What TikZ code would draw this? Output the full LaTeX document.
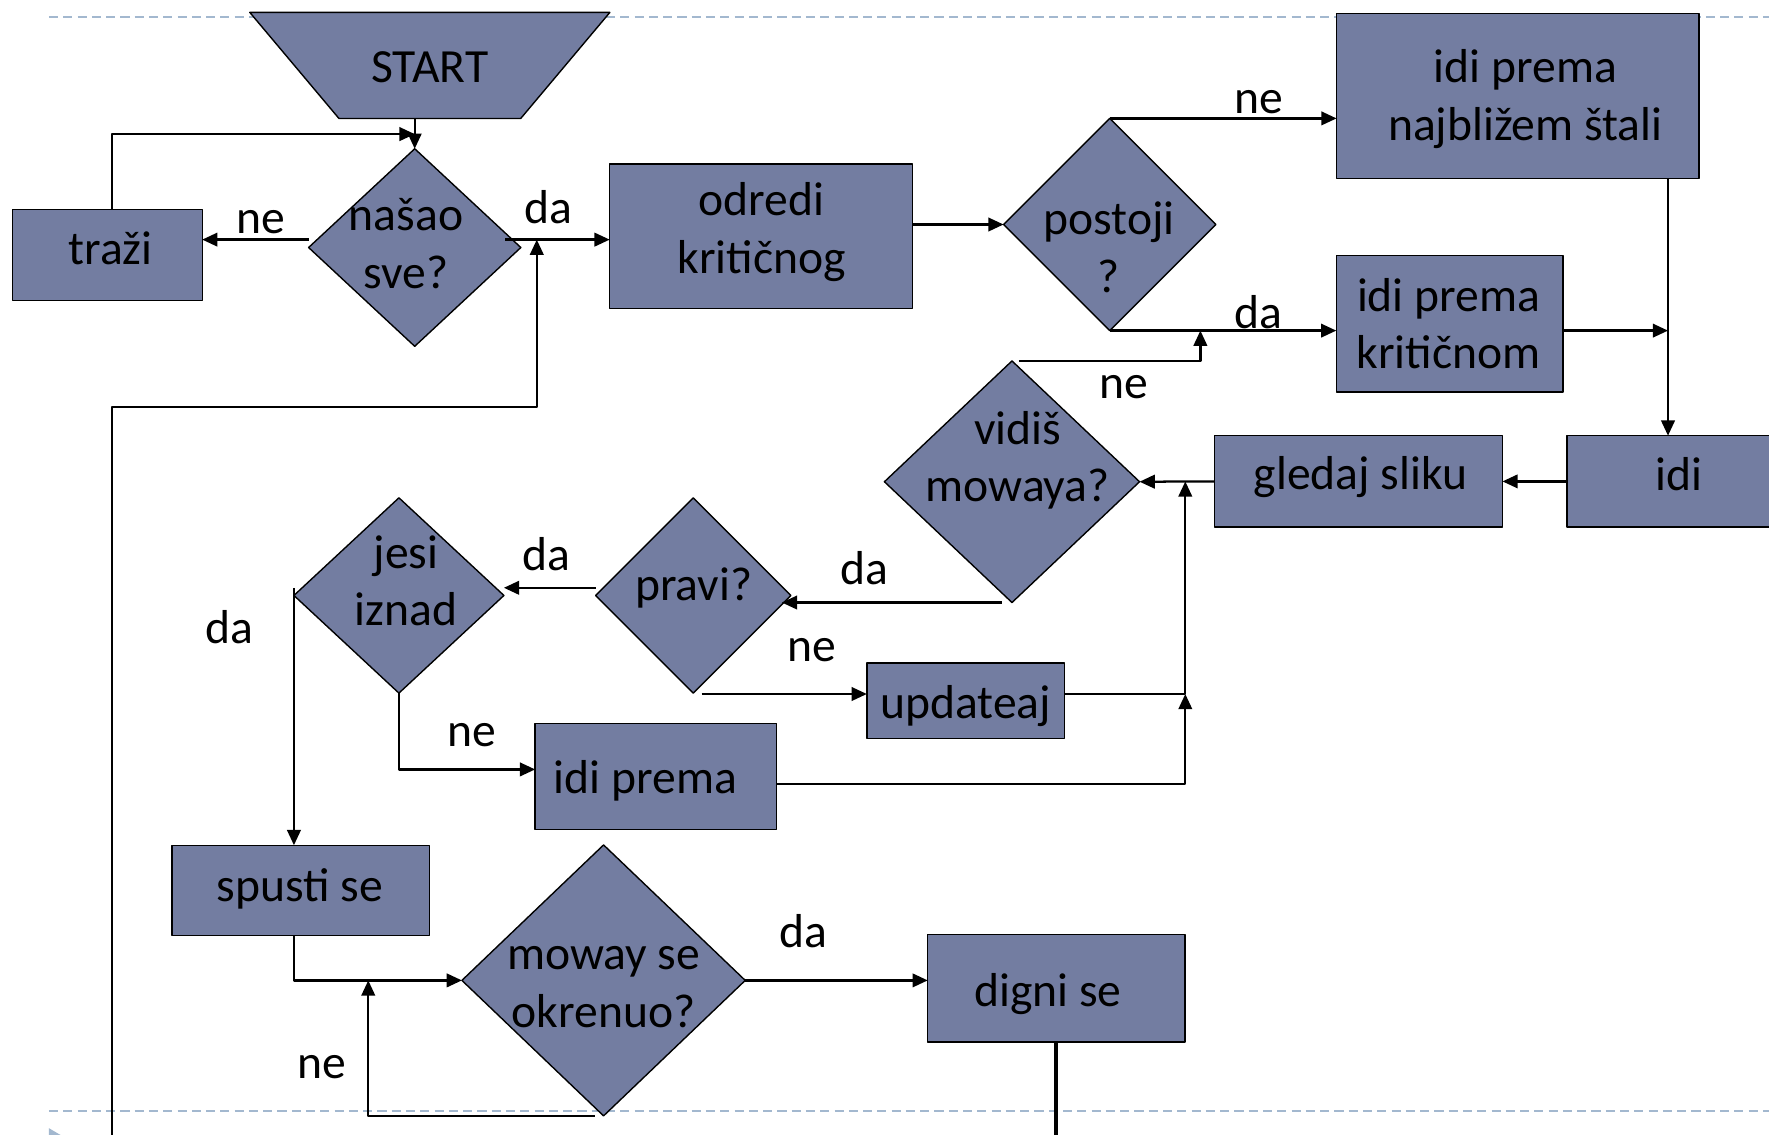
\documentclass[tikz,border=0pt]{standalone}
\usepackage{fontspec}
\setmainfont{Carlito}
\usetikzlibrary{shapes.geometric,arrows.meta,calc}
\definecolor{xsxcar}{rgb}{0.45,0.49,0.63}
\definecolor{aubzce}{rgb}{0.64,0.72,0.81}
\tikzset{
  korak/.style={draw=black,line width=0.35pt,fill=xsxcar,inner sep=0pt,outer sep=0pt},
  kutija/.style={korak,rectangle},
  odluka/.style={korak,diamond},
  tekst/.style={inner sep=0pt,align=center},
  veza/.style={line width=0.57pt,-{Triangle[length=1.35mm,width=1.2mm]}},
  oznaka/.style={inner sep=0pt}
}
\begin{document}
\begin{tikzpicture}[line join=round,x=0.01cm,y=-0.01cm,font=\fontsize{12}{14.5}\selectfont]
  \useasboundingbox (0,0) rectangle (1568,1006);
  \clip (0,0) rectangle (1568,1006);
  % slide guides
  \draw[aubzce,line width=0.5pt,dash pattern=on 2.3pt off 1.3pt] (43.4,14.8) -- (1568,14.8);
  \draw[aubzce,line width=0.5pt,dash pattern=on 2.3pt off 1.3pt] (43.4,984.5) -- (1568,984.5);
  \fill[aubzce] (43.4,1000) -- (57,1008) -- (43.4,1016) -- cycle;
  % steps
  \node[inner sep=0pt,outer sep=0pt,minimum width=3.19cm,minimum height=0.94cm] (start) at (381,58) {};
  \path[korak] (start.north west) -- (start.north east) -- ([xshift=-0.79cm]start.south east)
    -- ([xshift=0.79cm]start.south west) -- cycle;
  \node[odluka,minimum width=1.88cm,minimum height=1.75cm] (nasao) at (367.6,219.4) {};
  \node[kutija,minimum width=1.68cm,minimum height=0.81cm] (trazi) at (95.2,226) {};
  \node[kutija,minimum width=2.68cm,minimum height=1.28cm] (odredi) at (674.5,209.5) {};
  \node[odluka,minimum width=1.88cm,minimum height=1.88cm] (postoji) at (983.6,199) {};
  \node[kutija,minimum width=3.21cm,minimum height=1.46cm] (stala) at (1345.3,85.2) {};
  \node[kutija,minimum width=2.01cm,minimum height=1.21cm] (kriticni) at (1285,286.8) {};
  \node[kutija,minimum width=1.98cm,minimum height=0.81cm] (idi) at (1488,426.7) {};
  \node[kutija,minimum width=2.55cm,minimum height=0.81cm] (gledaj) at (1204.2,426.7) {};
  \node[odluka,minimum width=2.26cm,minimum height=2.14cm] (vidis) at (897,427) {};
  \node[odluka,minimum width=1.73cm,minimum height=1.73cm] (pravi) at (614.5,527.8) {};
  \node[odluka,minimum width=1.86cm,minimum height=1.73cm] (jesi) at (353.6,527.8) {};
  \node[kutija,minimum width=1.75cm,minimum height=0.67cm] (updateaj) at (855.9,621.3) {};
  \node[kutija,minimum width=2.14cm,minimum height=0.94cm] (prema) at (581.4,688.2) {};
  \node[kutija,minimum width=2.28cm,minimum height=0.80cm] (spusti) at (266.4,789.2) {};
  \node[odluka,minimum width=2.51cm,minimum height=2.40cm] (moway) at (535,869) {};
  \node[kutija,minimum width=2.28cm,minimum height=0.95cm] (digni) at (936.4,876) {};
  % texts
  \node[tekst] (startT) at (381,60) {START};
  \node[tekst] (nasaoT) at (360,216) {našao\\sve?};
  \node[tekst] (traziT) at (98,220) {traži};
  \node[tekst] (odrediT) at (675,205.5) {odredi\\kritičnog};
  \node[tekst] (postojiT) at (983,219) {postoji\\?};
  \node[tekst] (stalaT) at (1352,88) {idi prema\\najbližem štali};
  \node[tekst] (kriticniT) at (1284,287) {idi prema\\kritičnom};
  \node[tekst] (idiT) at (1488,420) {idi};
  \node[tekst] (gledajT) at (1206,423) {gledaj sliku};
  \node[tekst] (vidisT) at (902,408) {vidiš\\mowaya?};
  \node[tekst] (praviT) at (615,521) {pravi?};
  \node[tekst] (jesiT) at (360,515) {jesi\\iznad};
  \node[tekst] (updateajT) at (856,626) {updateaj};
  \node[tekst] (premaT) at (572,692) {idi prema};
  \node[tekst] (spustiT) at (266,788) {spusti se};
  \node[tekst] (mowayT) at (535,875) {moway se\\okrenuo?};
  \node[tekst] (digniT) at (929,881) {digni se};
  % helper points
  \coordinate (traziN) at ($(trazi.north)+(4,0)$);
  \coordinate (nasaoD) at ($(nasao.east)+(-14,-7)$);
  \coordinate (dnoL) at (99.2,1010);
  \coordinate (petlja) at (475.8,360.5);
  \coordinate (stalaD) at ($(stala.south east)+(-27.4,0)$);
  \coordinate (vidisN) at ($(vidis.north)+(6,0)$);
  \coordinate (spojN) at ($(postoji.south)+(80.4,0)$);
  \coordinate (vidisS) at ($(vidis.south)+(-9,0)$);
  \coordinate (praviD) at ($(pravi.east)+(-8,0)$);
  \coordinate (praviL) at ($(pravi.west)+(0,-6.8)$);
  \coordinate (praviB) at ($(pravi.south)+(7.4,0.8)$);
  \coordinate (premaL) at ($(prema.west)+(0,-6.2)$);
  \coordinate (premaD) at ($(prema.east)+(0,6.8)$);
  \coordinate (jesiL) at ($(jesi.west)+(0,-6.8)$);
  \coordinate (spojV) at ($(gledaj.west)+(-26,0)$);
  \coordinate (mowayS) at ($(moway.south)+(-8,0)$);
  \coordinate (spojM) at ($(moway.west)+(-83,0)$);
  % connectors
  \draw[veza] (start.south -| nasao.north) -- (nasao.north);
  \draw[veza] (traziN) |- ($(nasao.north)+(0,-13)$);
  \draw[veza] ([yshift=0.07cm]nasao.west) -- ([yshift=0.07cm]nasao.west -| trazi.east);
  \draw[veza] (nasaoD) -- (nasaoD -| odredi.west);
  \draw[veza] (dnoL) |- (petlja) -- (petlja |- nasaoD);
  \draw[veza] (odredi.east |- postoji.west) -- (postoji.west);
  \draw[veza] (postoji.north) -- (postoji.north -| stala.west);
  \draw[veza] (postoji.south) -- (postoji.south -| kriticni.west);
  \draw[veza] (kriticni.east |- postoji.south) -- (stalaD |- postoji.south);
  \draw[veza] (stalaD) -- (stalaD |- idi.north);
  \draw[veza] (idi.west) -- (gledaj.east);
  \draw[veza] (gledaj.west) -- (vidis.east);
  \draw[veza] (vidisN) -| (spojN);
  \draw[veza] (vidisS) -- (vidisS -| praviD);
  \draw[veza] (praviL) -- (praviL -| jesi.east);
  \draw[veza] (praviB) -- (praviB -| updateaj.west);
  \draw[veza] (updateaj.east |- praviB) -| (spojV);
  \draw[veza] (premaD) -| (spojV |- praviB);
  \draw[veza] (jesi.south) |- (premaL);
  \draw[veza] (jesiL) -- (jesiL |- spusti.north);
  \draw[veza] (jesiL |- spusti.south) |- (moway.west);
  \draw[veza] (mowayS) -| (spojM);
  \draw[veza] (moway.east) -- (moway.east -| digni.west);
  \draw[line width=1pt] (digni.south) -- (digni.south |- dnoL);
  % labels
  \node[oznaka] (ne1) at (231.5,196.5) {ne};
  \node[oznaka] (da1) at (486,183.2) {da};
  \node[oznaka] (ne2) at (1115.8,90.2) {ne};
  \node[oznaka] (da2) at (1115.8,277) {da};
  \node[oznaka] (ne3) at (996,343.5) {ne};
  \node[oznaka] (da3) at (766,503.7) {da};
  \node[oznaka] (da4) at (484.5,491.6) {da};
  \node[oznaka] (ne4) at (720,576.5) {ne};
  \node[oznaka] (ne5) at (418.3,651.2) {ne};
  \node[oznaka] (da5) at (203.6,556.3) {da};
  \node[oznaka] (ne6) at (285,946) {ne};
  \node[oznaka] (da6) at (712.4,825) {da};
\end{tikzpicture}
\end{document}
